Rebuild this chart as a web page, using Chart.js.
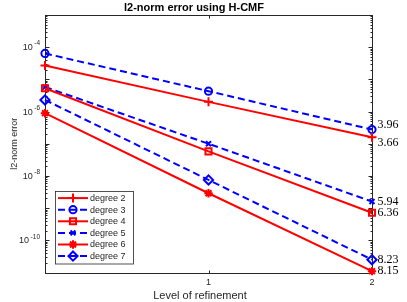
<!DOCTYPE html>
<html>
<head>
<meta charset="utf-8">
<script src="https://cdn.jsdelivr.net/npm/chart.js@4/dist/chart.umd.min.js"></script>
<style>
  html, body { margin: 0; padding: 0; background: #ffffff; }
  #wrap { width: 407px; height: 302px; }
</style>
</head>
<body>
<div id="wrap"><canvas id="c" width="407" height="302"></canvas></div>
<script>
// ---------------- data ----------------
const levels = [0, 1, 2];
const xTickLabels = ['', '1', '2'];
const seriesNames = ['degree 2', 'degree 3', 'degree 4', 'degree 5', 'degree 6', 'degree 7'];
const deg2 = [2.7e-5, 2.0e-6, 1.6e-7];
const deg3 = [6.4e-5, 4.3e-6, 2.76e-7];
const deg4 = [5.3e-6, 5.8e-8, 7.2e-10];
const deg5 = [5.8e-6, 1.0e-7, 1.6e-9];
const deg6 = [8.9e-7, 2.9e-9, 1.1e-11];
const deg7 = [2.3e-6, 7.5e-9, 2.5e-11];
const rateLabels = ['3.66', '3.96', '6.36', '5.94', '8.15', '8.23'];
const yTickExponents = [-4, -6, -8, -10];
const yMin = 1e-11, yMax = 1e-3;
const titleText = 'l2-norm error using H-CMF';
const xTitleText = 'Level of refinement';
const yTitleText = 'l2-norm error';

// ---------------- styles ----------------
const RED = '#ff0000', BLUE = '#0000ff', AXIS = '#262626';
const SANS = '"Liberation Sans", Arial, Helvetica, sans-serif';
const SERIF = '"Liberation Serif", "Times New Roman", serif';
const seriesValues = [deg2, deg3, deg4, deg5, deg6, deg7];
const styles = [
  { color: RED,  dash: [],     point: 'cross',    r: 4.5 },
  { color: BLUE, dash: [7, 4], point: 'circle',   r: 3.6 },
  { color: RED,  dash: [],     point: 'rect',     r: 4.3 },
  { color: BLUE, dash: [7, 4], point: 'crossRot', r: 3.5 },
  { color: RED,  dash: [],     point: 'star',     r: 4.2 },
  { color: BLUE, dash: [7, 4], point: 'rectRot',  r: 4.6 }
];
const labelDy = [6, -5, 0, 0, 0, 0];

Chart.defaults.font.family = SANS;

const datasets = seriesValues.map((vals, i) => ({
  label: seriesNames[i],
  data: levels.map((x, j) => ({ x: x, y: vals[j] })),
  borderColor: styles[i].color,
  borderWidth: 2,
  borderDash: styles[i].dash,
  pointStyle: styles[i].point,
  pointRadius: styles[i].r,
  pointHoverRadius: styles[i].r,
  pointBorderWidth: 2,
  pointBorderColor: styles[i].color,
  pointBackgroundColor: 'rgba(0,0,0,0)',
  fill: false,
  tension: 0,
  clip: false
}));

function drawMarker(ctx, style, x, y) {
  ctx.save();
  ctx.strokeStyle = style.color;
  ctx.fillStyle = 'rgba(0,0,0,0)';
  ctx.lineWidth = 2;
  ctx.setLineDash([]);
  if (Chart.helpers && Chart.helpers.drawPoint) {
    Chart.helpers.drawPoint(ctx, { pointStyle: style.point, radius: style.r, rotation: 0, borderWidth: 2 }, x, y);
  }
  ctx.restore();
}

const decor = {
  id: 'decor',
  beforeDatasetsDraw(chart) {
    const { ctx, chartArea: a, scales } = chart;
    const xs = scales.x, ys = scales.y;
    ctx.save();
    ctx.strokeStyle = AXIS;
    ctx.lineWidth = 1;
    const L = Math.round(a.left) + 0.5, R = Math.round(a.right) + 0.5;
    const T = Math.round(a.top) + 0.5, B = Math.round(a.bottom) + 0.5;
    ctx.strokeRect(L, T, R - L, B - T);
    ctx.beginPath();
    // y ticks (major + minor), inward on both sides
    for (let e = -11; e <= -3; e++) {
      for (let k = 1; k <= 9; k++) {
        const v = k * Math.pow(10, e);
        if (v < yMin * 0.999 || v > yMax * 1.001) continue;
        const py = Math.round(ys.getPixelForValue(v)) + 0.5;
        const len = k === 1 ? 4 : 2;
        ctx.moveTo(L, py); ctx.lineTo(L + len, py);
        ctx.moveTo(R, py); ctx.lineTo(R - len, py);
      }
    }
    // x ticks
    levels.forEach(v => {
      const px = Math.round(xs.getPixelForValue(v)) + 0.5;
      ctx.moveTo(px, B); ctx.lineTo(px, B - 3);
      ctx.moveTo(px, T); ctx.lineTo(px, T + 3);
    });
    ctx.stroke();
    ctx.restore();
  },
  afterDraw(chart) {
    const { ctx, chartArea: a, scales } = chart;
    const xs = scales.x, ys = scales.y;
    ctx.save();
    // title
    ctx.fillStyle = '#000000';
    ctx.font = 'bold 11px ' + SANS;
    ctx.textAlign = 'center';
    ctx.textBaseline = 'middle';
    ctx.fillText(titleText, 194, 7.5);
    // x title
    ctx.fillStyle = AXIS;
    ctx.font = '11px ' + SANS;
    ctx.fillText(xTitleText, 200, 295.5);
    // y tick labels with superscripts
    yTickExponents.forEach(e => {
      const py = ys.getPixelForValue(Math.pow(10, e));
      ctx.font = '6.5px ' + SANS;
      ctx.textAlign = 'right';
      const sup = '-' + Math.abs(e);
      const sw = ctx.measureText(sup).width;
      ctx.fillText(sup, a.left - 5, py - 3.5);
      ctx.font = '9px ' + SANS;
      ctx.fillText('10', a.left - 5 - sw - 1.5, py + 0.5);
    });
    // rate labels at the last level
    ctx.font = '12px ' + SERIF;
    ctx.textAlign = 'left';
    ctx.fillStyle = '#000000';
    seriesValues.forEach((vals, i) => {
      const last = levels.length - 1;
      const px = xs.getPixelForValue(levels[last]);
      const py = ys.getPixelForValue(vals[last]);
      ctx.fillText(rateLabels[i], px + 5.5, py + labelDy[i]);
    });
    // legend
    const bx = a.left + 10, by = a.bottom - 82, bw = 78, bh = 72.5;
    ctx.fillStyle = '#ffffff';
    ctx.fillRect(bx, by, bw, bh);
    ctx.strokeStyle = AXIS;
    ctx.lineWidth = 0.8;
    ctx.strokeRect(Math.round(bx) + 0.5, Math.round(by) + 0.5, bw, bh);
    seriesNames.forEach((name, i) => {
      const ry = by + 7.6 + i * 11.6;
      const st = styles[i];
      ctx.save();
      ctx.strokeStyle = st.color;
      ctx.lineWidth = 2;
      ctx.setLineDash(st.dash);
      ctx.beginPath();
      ctx.moveTo(bx + 3, ry);
      ctx.lineTo(bx + 33, ry);
      ctx.stroke();
      ctx.restore();
      drawMarker(ctx, st, bx + 18, ry);
      ctx.fillStyle = AXIS;
      ctx.font = '9px ' + SANS;
      ctx.textAlign = 'left';
      ctx.textBaseline = 'middle';
      ctx.fillText(name, bx + 35, ry + 0.5);
    });
    ctx.restore();
  }
};

new Chart(document.getElementById('c'), {
  type: 'line',
  data: { datasets: datasets },
  options: {
    responsive: false,
    animation: false,
    devicePixelRatio: 1,
    layout: { padding: { top: 15, right: 35, left: 0, bottom: 0 } },
    plugins: { legend: { display: false }, title: { display: false }, tooltip: { enabled: false } },
    scales: {
      x: {
        type: 'linear',
        min: 0, max: 2,
        grid: { display: false, drawTicks: false },
        border: { display: false },
        ticks: {
          stepSize: 1,
          padding: 5,
          color: AXIS,
          font: { size: 9 },
          maxRotation: 0,
          callback: (v) => { const i = levels.indexOf(v); return i >= 0 ? xTickLabels[i] : ''; }
        },
        afterFit: (s) => { s.height = 29.5; }
      },
      y: {
        type: 'logarithmic',
        min: yMin, max: yMax,
        grid: { display: false, drawTicks: false },
        border: { display: false },
        ticks: { display: false },
        title: { display: true, text: yTitleText, color: AXIS, font: { size: 9 }, padding: { top: 9, bottom: 0 } },
        afterFit: (s) => { s.width = 45; }
      }
    }
  },
  plugins: [decor]
});
</script>
</body>
</html>
